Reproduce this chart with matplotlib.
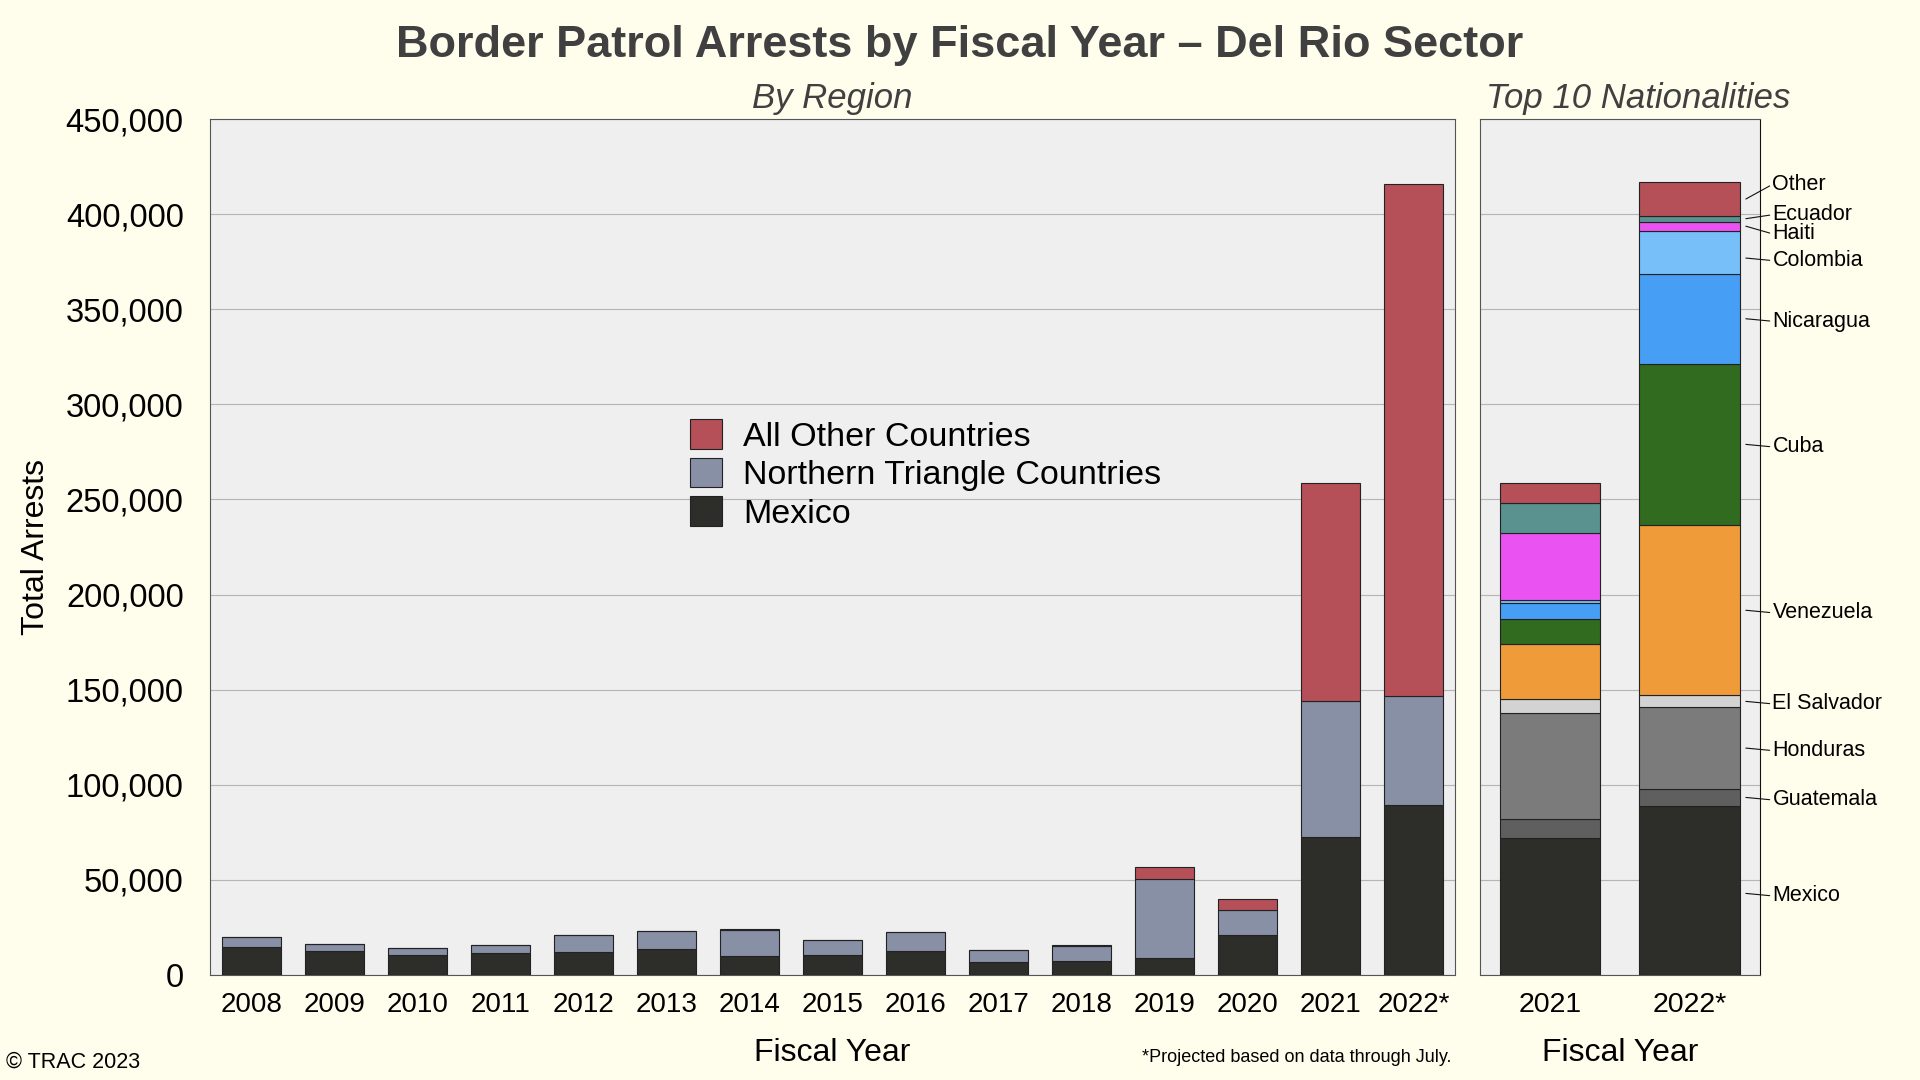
import matplotlib
matplotlib.use("Agg")
import matplotlib.pyplot as plt
import numpy as np

plt.rcParams["font.family"] = ["Liberation Sans", "DejaVu Sans"]

# --- data: by region ---
years = ["2008", "2009", "2010", "2011", "2012", "2013", "2014", "2015",
         "2016", "2017", "2018", "2019", "2020", "2021", "2022*"]
mexico = [14900, 12600, 10500, 11700, 12100, 13900, 10200, 10700,
          12800, 7000, 7500, 9100, 20800, 72300, 89200]
northern_triangle = [4900, 3500, 3500, 3850, 8800, 9100, 13500, 7500,
                     9600, 6000, 7700, 41400, 13600, 72000, 57500]
all_other = [150, 100, 100, 150, 200, 250, 400, 200,
             250, 150, 400, 6200, 5700, 114400, 269300]

# --- data: top 10 nationalities (bottom to top) ---
nat_years = ["2021", "2022*"]
nationalities = ["Mexico", "Guatemala", "Honduras", "El Salvador", "Venezuela",
                 "Cuba", "Nicaragua", "Colombia", "Haiti", "Ecuador", "Other"]
nat_2021 = [72100, 10000, 55800, 7000, 29100, 13000, 8600, 1400, 35500, 15700, 10700]
nat_2022 = [88800, 9100, 42800, 6300, 89500, 84900, 47200, 22600, 4900, 3000, 17700]

region_colors = {"Mexico": "#2d2d2a", "Northern Triangle Countries": "#8890a6",
                 "All Other Countries": "#b55058"}
nat_colors = ["#2d2d2a", "#5f5f5f", "#7b7b7b", "#d3d3d3", "#ef9b3a", "#306b1f",
              "#479ef5", "#76bff8", "#eb52f2", "#5a9290", "#b55058"]
# label nudges (in arrests) for the crowded labels at the top
text_nudge = {"Other": 9000, "Ecuador": 3400, "Haiti": -2700, "Colombia": -3000,
              "Mexico": -1500}
anchor_nudge = {"Colombia": -3000, "Mexico": -1500}

bg = "#fffdeb"
panel = "#efefef"
edge = "#222222"

fig = plt.figure(figsize=(19.2, 10.8), dpi=100, facecolor=bg)
ax = fig.add_axes([0.1094, 0.0972, 0.6484, 0.7926], facecolor=panel)
ax2 = fig.add_axes([0.7708, 0.0972, 0.1458, 0.7926], facecolor=panel)

# left panel
x = np.arange(len(years))
w = 0.72
bottom = np.zeros(len(years))
for name, vals in [("Mexico", mexico), ("Northern Triangle Countries", northern_triangle),
                   ("All Other Countries", all_other)]:
    ax.bar(x, vals, w, bottom=bottom, color=region_colors[name], edgecolor=edge,
           linewidth=0.8, label=name, zorder=3)
    bottom += np.array(vals)

ax.set_xlim(-0.5, len(years) - 0.5)
ax.set_ylim(0, 450000)
ax.set_yticks(np.arange(0, 450001, 50000))
ax.set_yticklabels([f"{v:,}" for v in range(0, 450001, 50000)], fontsize=23.5)
ax.set_xticks(x)
ax.set_xticklabels(years, fontsize=20)
ax.tick_params(axis="both", length=0)
ax.tick_params(axis="y", pad=19)
ax.tick_params(axis="x", pad=12)
ax.grid(axis="y", color="#b5b5b5", linewidth=0.8, zorder=0)
ax.set_axisbelow(True)
ax.set_xlabel("Fiscal Year", fontsize=23)
ax.xaxis.set_label_coords(0.5, -0.073)
ax.set_ylabel("Total Arrests", fontsize=23)
ax.yaxis.set_label_coords(-0.1274, 0.5)
ax.set_title("By Region", fontsize=25, style="italic", color="#404040", pad=8)
for s in ax.spines.values():
    s.set_color("#555555")

handles, labels = ax.get_legend_handles_labels()
ax.legend(handles[::-1], labels[::-1], loc="upper left", bbox_to_anchor=(0.361, 0.685),
          frameon=False, fontsize=24.5, handlelength=0.95, handleheight=0.95,
          handletextpad=0.6, labelspacing=0.15)

# right panel
xn = np.arange(len(nat_years))
stack = np.array([nat_2021, nat_2022])
bottoms = np.zeros(len(nat_years))
for i, name in enumerate(nationalities):
    ax2.bar(xn, stack[:, i], w, bottom=bottoms, color=nat_colors[i], edgecolor=edge,
            linewidth=0.8, zorder=3)
    bottoms += stack[:, i]

ax2.set_xlim(-0.5, len(nat_years) - 0.5)
ax2.set_ylim(0, 450000)
ax2.set_yticks(np.arange(0, 450001, 50000))
ax2.set_yticklabels([])
ax2.set_xticks(xn)
ax2.set_xticklabels(nat_years, fontsize=20.5)
ax2.tick_params(axis="both", length=0)
ax2.tick_params(axis="x", pad=12)
ax2.grid(axis="y", color="#b5b5b5", linewidth=0.8, zorder=0)
ax2.set_axisbelow(True)
ax2.set_xlabel("Fiscal Year", fontsize=23)
ax2.xaxis.set_label_coords(0.5, -0.073)
ax2.set_title("Top 10 Nationalities", fontsize=25, style="italic", color="#404040",
              pad=8, x=0.565)
for s in ax2.spines.values():
    s.set_color("#555555")
ax2.spines["right"].set_color("#111111")

# leader-line labels for 2022 stack
tr = ax2.get_yaxis_transform()
cum = np.cumsum([0] + nat_2022)
for i, name in enumerate(nationalities):
    mid = (cum[i] + cum[i + 1]) / 2
    ax2.annotate(name, xy=(0.95, mid + anchor_nudge.get(name, 0)), xycoords=tr,
                 xytext=(1.045, mid + text_nudge.get(name, 0)), textcoords=tr,
                 ha="left", va="center_baseline", fontsize=15.5, annotation_clip=False,
                 arrowprops=dict(arrowstyle="-", lw=0.8, color="#111111",
                                 shrinkA=0, shrinkB=0, relpos=(0, 0.5)))

fig.suptitle("Border Patrol Arrests by Fiscal Year \u2013 Del Rio Sector", fontsize=32.5,
             fontweight="bold", color="#404040", y=0.958, va="center")
fig.text(0.003, 0.0167, "\u00a9 TRAC 2023", fontsize=15.5, ha="left", va="center")
fig.text(0.756, 0.0204, "*Projected based on data through July.", fontsize=13,
         ha="right", va="center")

fig.savefig("out.png", dpi=100, facecolor=bg)
